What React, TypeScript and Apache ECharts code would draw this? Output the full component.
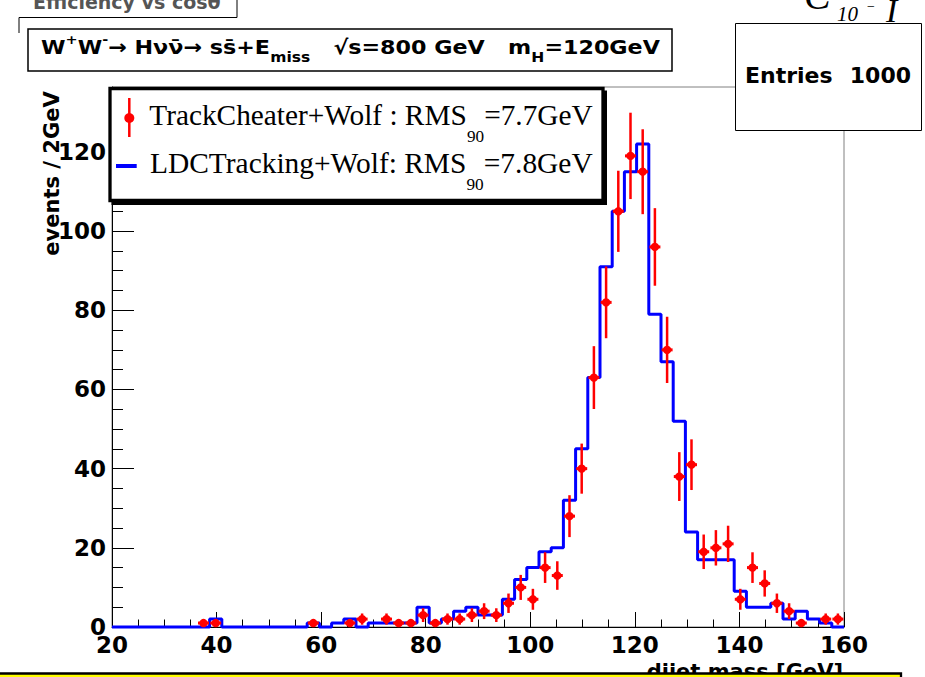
import React, { useEffect, useRef } from "react";
import * as echarts from "echarts";

// ---------------- data ----------------
const X_MIN = 20;
const X_MAX = 160;
const N_BINS = 60;
const Y_MAX = 136.4;
const xTickStep = 20;
const yTickStep = 20;

// LDCTracking+Wolf (blue histogram), counts per bin, 60 bins from 20 to 160 GeV
const ldcCounts = [
  0, 0, 0, 0, 0, 0, 0, 0, 2, 0,
  0, 0, 0, 0, 0, 0, 1, 0, 1, 2,
  0, 1, 1, 1, 1, 5, 1, 2, 4, 5,
  3, 3, 7, 12, 15, 19, 20, 32, 45, 63,
  91, 105, 115, 122, 79, 67, 52, 24, 17, 17,
  17, 9, 5, 5, 6, 2, 4, 2, 1, 0,
];

// TrackCheater+Wolf (red points with sqrt(N) errors), counts per bin
const cheaterCounts = [
  0, 0, 0, 0, 0, 0, 0, 1, 1, 0,
  0, 0, 0, 0, 0, 0, 1, 0, 0, 1,
  2, 0, 2, 1, 1, 3, 1, 2, 2, 3,
  4, 3, 6, 10, 7, 15, 13, 28, 40, 63,
  82, 105, 119, 115, 96, 70, 38, 41, 19, 20,
  21, 7, 15, 11, 6, 4, 1, 0, 2, 2,
];

const legendCheater = { name: "TrackCheater+Wolf : RMS", sub: "90", tail: "=7.7GeV" };
const legendLdc = { name: "LDCTracking+Wolf: RMS", sub: "90", tail: "=7.8GeV" };
const statsLabel = "Entries";
const statsEntries = 1000;
const xAxisTitle = "dijet mass [GeV]";
const yAxisTitle = "events / 2GeV";
const behindTitle = "Efficiency vs cos\u03B8";

// ---------------- helpers ----------------
const SANS = "DejaVu Sans";
const SERIF = "Liberation Serif";

let measureCtx: CanvasRenderingContext2D | null = null;
function measure(text: string, size: number, family: string, weight = "normal", fstyle = "normal") {
  if (!measureCtx) measureCtx = document.createElement("canvas").getContext("2d");
  const ctx = measureCtx as CanvasRenderingContext2D;
  ctx.font = `${fstyle} ${weight} ${size}px "${family}"`;
  const m: any = ctx.measureText(text);
  const asc = m.fontBoundingBoxAscent ?? size * 0.9;
  const desc = m.fontBoundingBoxDescent ?? size * 0.22;
  return { w: m.width as number, central: (asc - desc) / 2 };
}

type Seg = { t: string; size: number; dy?: number };

function textRun(
  segs: Seg[],
  o: { x: number; baseline: number; width?: number; family: string; weight?: string; fstyle?: string; fill?: string; z: number }
) {
  let cx = 0;
  const children: any[] = [];
  for (const s of segs) {
    const m = measure(s.t, s.size, o.family, o.weight || "normal", o.fstyle || "normal");
    children.push({
      type: "text",
      x: cx,
      y: o.baseline + (s.dy || 0) - m.central,
      z: o.z,
      style: {
        text: s.t,
        fontSize: s.size,
        fontFamily: o.family,
        fontWeight: o.weight || "normal",
        fontStyle: o.fstyle || "normal",
        fill: o.fill || "#000",
        align: "left",
        verticalAlign: "middle",
      },
    });
    cx += m.w;
  }
  const scaleX = o.width ? o.width / cx : 1;
  return { type: "group", x: o.x, y: 0, scaleX, z: o.z, children };
}

function singleText(t: string, x: number, baseline: number, size: number, family: string, weight: string, align: string, z: number, fill = "#000", fstyle = "normal") {
  const m = measure(t, size, family, weight, fstyle);
  return {
    type: "text",
    x,
    y: baseline - m.central,
    z,
    style: { text: t, fontSize: size, fontFamily: family, fontWeight: weight, fontStyle: fstyle, fill, align, verticalAlign: "middle" },
  };
}

export default function App() {
  const ref = useRef<HTMLDivElement>(null);

  useEffect(() => {
    if (!ref.current) return;
    const chart = echarts.init(ref.current, undefined, { renderer: "svg" });
    const binW = (X_MAX - X_MIN) / N_BINS;

    const ldcLine: number[][] = ldcCounts.map((v, k) => [X_MIN + k * binW, v]);
    ldcLine.push([X_MAX, ldcCounts[ldcCounts.length - 1]]);

    const cheaterPts = cheaterCounts
      .map((v, k) => [X_MIN + (k + 0.5) * binW, v, Math.sqrt(v)])
      .filter((p) => p[1] > 0);

    const axisFont = { fontFamily: SANS, fontWeight: "bold" as const, fontSize: 23, color: "#000" };

    const graphic: any[] = [
      // partially hidden pad behind (top-left)
      singleText(behindTitle, 33, 9, 19, SANS, "bold", "left", 5, "#555"),
      { type: "line", z: 5, shape: { x1: 19, y1: 17.5, x2: 237, y2: 17.5 }, style: { stroke: "#000", lineWidth: 1 } },
      { type: "line", z: 5, shape: { x1: 237, y1: 0, x2: 237, y2: 17.5 }, style: { stroke: "#000", lineWidth: 1 } },
      { type: "line", z: 5, shape: { x1: 19, y1: 17.5, x2: 19, y2: 33 }, style: { stroke: "#000", lineWidth: 1 } },
      // partially hidden text top right
      singleText("C", 804, 9, 40, SERIF, "normal", "left", 5, "#000", "italic"),
      singleText("10", 837, 21, 21, SERIF, "normal", "left", 5, "#000", "italic"),
      singleText("\u2212", 866, 11, 14, SERIF, "normal", "left", 5, "#000", "italic"),
      singleText("I", 886, 22, 34, SERIF, "normal", "left", 5, "#000", "italic"),

      // title box
      { type: "rect", z: 20, shape: { x: 28, y: 29, width: 644, height: 42 }, style: { fill: "#fff", stroke: "#000", lineWidth: 1.5 } },
      textRun(
        [
          { t: "W", size: 20 },
          { t: "+", size: 13, dy: -10 },
          { t: "W", size: 20 },
          { t: "-", size: 13, dy: -10 },
          { t: "\u2192 H\u03BD\u03BD\u0304\u2192 ss\u0304+E", size: 20 },
          { t: "miss", size: 14, dy: 8 },
          { t: "   \u221As=800 GeV   m", size: 20 },
          { t: "H", size: 14, dy: 8 },
          { t: "=120GeV", size: 20 },
        ],
        { x: 41, baseline: 54, width: 619, family: SANS, weight: "bold", z: 21 }
      ),

      // stats box
      { type: "rect", z: 20, shape: { x: 735.5, y: 23.5, width: 186, height: 107 }, style: { fill: "#fff", stroke: "#000", lineWidth: 1 } },
      singleText(statsLabel, 745, 83, 22, SANS, "bold", "left", 21),
      singleText(String(statsEntries), 911, 83, 22, SANS, "bold", "right", 21),

      // legend box with shadow
      { type: "rect", z: 20, shape: { x: 111.5, y: 90.5, width: 495.5, height: 114.5 }, style: { fill: "#000" } },
      { type: "rect", z: 21, shape: { x: 110, y: 88.5, width: 493, height: 112 }, style: { fill: "#fff", stroke: "#000", lineWidth: 3.3 } },
      { type: "line", z: 22, shape: { x1: 129.3, y1: 98, x2: 129.3, y2: 137 }, style: { stroke: "#ff0000", lineWidth: 2.5 } },
      { type: "circle", z: 22, shape: { cx: 129.3, cy: 118, r: 5 }, style: { fill: "#ff0000" } },
      { type: "line", z: 22, shape: { x1: 116, y1: 166, x2: 136.7, y2: 166 }, style: { stroke: "#0000ff", lineWidth: 4 } },
      textRun(
        [
          { t: legendCheater.name, size: 29 },
          { t: legendCheater.sub, size: 17, dy: 16.7 },
          { t: legendCheater.tail, size: 29 },
        ],
        { x: 149.3, baseline: 125, width: 443.4, family: SERIF, z: 22 }
      ),
      textRun(
        [
          { t: legendLdc.name, size: 29 },
          { t: legendLdc.sub, size: 17, dy: 16.7 },
          { t: legendLdc.tail, size: 29 },
        ],
        { x: 150, baseline: 173, width: 442.7, family: SERIF, z: 22 }
      ),

      // axis titles
      {
        type: "text",
        x: 51.5,
        y: 173.5,
        rotation: Math.PI / 2,
        z: 5,
        style: { text: yAxisTitle, fontSize: 21, fontFamily: SANS, fontWeight: "bold", fill: "#000", align: "center", verticalAlign: "middle" },
      },
      singleText(xAxisTitle, 843, 679, 21, SANS, "bold", "right", 5),

      // yellow box at the bottom
      { type: "rect", z: 30, shape: { x: -3, y: 673.5, width: 904, height: 20 }, style: { fill: "#ffff00", stroke: "#000", lineWidth: 2.3 } },
    ];

    const option: any = {
      animation: false,
      backgroundColor: "#fff",
      grid: { left: 112, right: 81, top: 87, bottom: 50, show: true, borderColor: "#808080", borderWidth: 1, backgroundColor: "transparent" },
      xAxis: {
        type: "value",
        min: X_MIN,
        max: X_MAX,
        interval: xTickStep,
        axisLine: { show: true, onZero: false, lineStyle: { color: "#000", width: 1 } },
        axisTick: { show: true, inside: true, length: 15, lineStyle: { color: "#000", width: 1 } },
        minorTick: { show: true, splitNumber: 4, length: 7.5, lineStyle: { color: "#000", width: 1 } },
        splitLine: { show: false },
        axisLabel: { ...axisFont, margin: 6, showMinLabel: true, showMaxLabel: true },
      },
      yAxis: {
        type: "value",
        min: 0,
        max: Y_MAX,
        interval: yTickStep,
        axisLine: { show: true, onZero: false, lineStyle: { color: "#000", width: 1 } },
        axisTick: { show: true, inside: true, length: 22, lineStyle: { color: "#000", width: 1 } },
        minorTick: { show: true, splitNumber: 4, length: 11, lineStyle: { color: "#000", width: 1 } },
        splitLine: { show: false },
        axisLabel: { ...axisFont, margin: 6, showMaxLabel: false },
      },
      series: [
        {
          name: "LDCTracking+Wolf",
          type: "line",
          step: "end",
          data: ldcLine,
          symbol: "none",
          clip: false,
          z: 3,
          lineStyle: { color: "#0000ff", width: 3 },
        },
        {
          name: "TrackCheater+Wolf",
          type: "custom",
          data: cheaterPts,
          encode: { x: 0, y: 1 },
          z: 4,
          clip: false,
          renderItem: (_params: any, api: any) => {
            const x = api.value(0);
            const v = api.value(1);
            const e = api.value(2);
            const c = api.coord([x, v]);
            const top = api.coord([x, v + e]);
            const bot = api.coord([x, Math.max(0, v - e)]);
            return {
              type: "group",
              children: [
                { type: "line", shape: { x1: c[0], y1: top[1], x2: c[0], y2: bot[1] }, style: { stroke: "#ff0000", lineWidth: 2.5 } },
                { type: "line", shape: { x1: c[0] - 5.5, y1: c[1], x2: c[0] + 5.5, y2: c[1] }, style: { stroke: "#ff0000", lineWidth: 3 } },
                { type: "circle", shape: { cx: c[0], cy: c[1], r: 4.2 }, style: { fill: "#ff0000" } },
              ],
            };
          },
        },
      ],
      graphic,
    };

    chart.setOption(option);
    return () => chart.dispose();
  }, []);

  return (
    <div
      ref={ref}
      style={{ position: "fixed", left: 0, top: 0, width: 925, height: 677, background: "#fff" }}
    />
  );
}
